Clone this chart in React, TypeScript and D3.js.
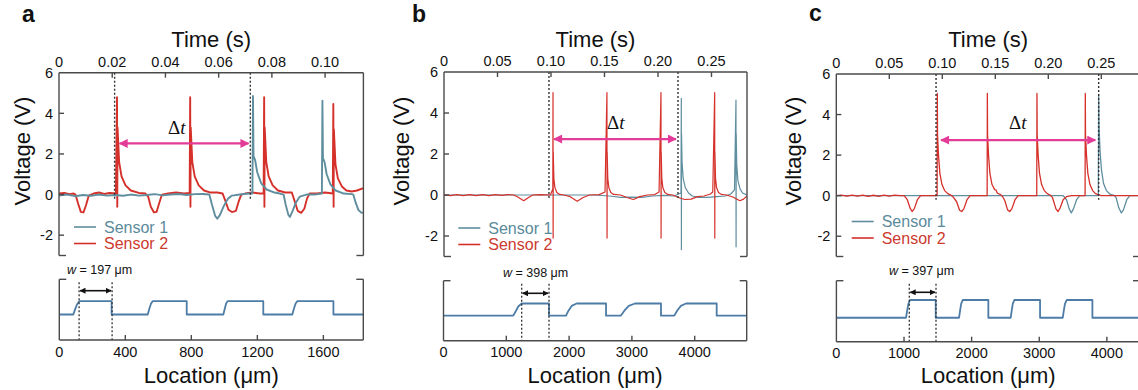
import React from 'react';
import * as d3 from 'd3';

// ---------- tick values / labels ----------
const TIME_TICKS_A = [0, 0.02, 0.04, 0.06, 0.08, 0.1];
const TIME_LABELS_A = ['0', '0.02', '0.04', '0.06', '0.08', '0.10'];
const TIME_TICKS_BC = [0, 0.05, 0.1, 0.15, 0.2, 0.25];
const TIME_LABELS_BC = ['0', '0.05', '0.10', '0.15', '0.20', '0.25'];
const VOLT_TICKS = [-2, 0, 2, 4, 6];
const LOC_TICKS_A = [0, 400, 800, 1200, 1600];
const LOC_TICKS_BC = [0, 1000, 2000, 3000, 4000];
const SERIES_NAMES = ['Sensor 1', 'Sensor 2'];
const WIDTH_VALUES = ['197', '398', '397'];
const PANEL_LETTERS = ['a', 'b', 'c'];

// ---------- panel a : [time (s), voltage (V)] ----------
const A_SENSOR2 = [
  [0, 0.05], [0.002, 0.08], [0.004, 0.02], [0.0055, 0.05], [0.0062, 0], [0.0072, -0.45], [0.0082, -0.85], [0.0092, -0.88],
  [0.0102, -0.5], [0.0112, -0.05], [0.013, 0.05], [0.015, 0.1], [0.017, 0.03], [0.019, 0.08], [0.0214, 0.05],
  [0.0218, 4.79], [0.0219, -0.6], [0.022, 3.3], [0.0226, 1.6], [0.0235, 0.9], [0.025, 0.45], [0.027, 0.2], [0.03, 0.08],
  [0.0325, 0.05], [0.0335, -0.1], [0.0345, -0.6], [0.0357, -0.88], [0.0367, -0.85], [0.0377, -0.4], [0.0387, 0],
  [0.041, 0.05], [0.044, 0.1], [0.047, 0.05], [0.0491, 0.08],
  [0.0493, 4.79], [0.0494, -0.6], [0.0495, 3.3], [0.0501, 1.6], [0.051, 0.9], [0.0525, 0.45], [0.0545, 0.2], [0.057, 0.1],
  [0.0595, 0.1], [0.0615, 0.05], [0.0625, -0.3], [0.0637, -0.75], [0.065, -0.86], [0.0665, -0.8], [0.0675, -0.35], [0.0685, 0],
  [0.07, 0.05], [0.0725, 0.1], [0.0755, 0.05], [0.0769, 0.05],
  [0.0771, 4.79], [0.0772, -0.6], [0.0773, 3.3], [0.0779, 1.6], [0.0788, 0.9], [0.0803, 0.45], [0.0823, 0.2], [0.085, 0.1],
  [0.0875, 0.1], [0.0885, -0.3], [0.0897, -0.8], [0.091, -0.9], [0.0922, -0.7], [0.0932, -0.2], [0.0942, 0.05],
  [0.097, 0.05], [0.1, 0.1], [0.1029, 0.05],
  [0.1031, 4.46], [0.1032, -0.6], [0.1033, 3.2], [0.1039, 1.5], [0.1048, 0.8], [0.1063, 0.4], [0.108, 0.2], [0.11, 0.15],
  [0.112, 0.2], [0.1144, 0.32],
];
const A_SENSOR1 = [
  [0, -0.05], [0.003, 0], [0.006, -0.08], [0.009, -0.02], [0.012, -0.06], [0.015, 0], [0.018, -0.05], [0.021, -0.02],
  [0.024, -0.06], [0.027, 0], [0.03, -0.05], [0.033, -0.02], [0.036, 0.02], [0.039, -0.04], [0.042, 0], [0.045, 0.03],
  [0.048, -0.02], [0.051, 0.02], [0.054, 0.03], [0.0565, 0], [0.0575, -0.5], [0.0587, -1.05], [0.0595, -1.19],
  [0.0605, -1.0], [0.062, -0.55], [0.0635, -0.2], [0.065, -0.05], [0.068, 0], [0.071, 0.05], [0.0727, 0.05],
  [0.0729, 4.85], [0.0731, 1.9], [0.0737, 1.7], [0.0745, 1.1], [0.076, 0.55], [0.078, 0.25], [0.081, 0.1], [0.083, 0.05],
  [0.0844, 0], [0.0852, -0.5], [0.0862, -1.0], [0.0868, -1.1], [0.0878, -0.8], [0.089, -0.4], [0.0905, -0.1],
  [0.093, 0], [0.096, 0], [0.0988, 0.05],
  [0.099, 4.62], [0.0992, 1.8], [0.0998, 1.6], [0.1006, 1.0], [0.102, 0.5], [0.104, 0.2], [0.107, 0.05], [0.11, 0.02],
  [0.1106, 0], [0.1115, -0.4], [0.1125, -0.75], [0.1135, -0.88], [0.1144, -0.9],
];
// [location (µm), relative height]
const A_PROFILE = [
  [0, 0.42], [85, 0.42], [95, 0.5], [108, 0.59], [121, 0.64], [317, 0.64], [317, 0.42], [536, 0.42], [546, 0.52],
  [556, 0.6], [566, 0.64], [772, 0.64], [772, 0.42], [994, 0.42], [1003, 0.52], [1011, 0.6], [1020, 0.64], [1236, 0.64],
  [1236, 0.42], [1412, 0.42], [1422, 0.52], [1432, 0.6], [1443, 0.64], [1661, 0.64], [1661, 0.42], [1842, 0.42],
];
const A_TIME_MARKS = [0.0209, 0.0719];
const A_DT_ARROW = [0.0224, 0.0716, 2.52];
const A_LOC_MARKS = [120, 320];

// ---------- panel b ----------
const B_SENSOR2 = [
  [0, 0], [0.006, -0.03], [0.012, 0.02], [0.018, -0.03], [0.024, 0.02], [0.03, -0.03], [0.036, 0.02], [0.042, -0.03],
  [0.048, 0.02], [0.054, -0.02], [0.06, 0.02], [0.065, 0], [0.069, -0.1], [0.0745, -0.28], [0.079, -0.12], [0.083, 0],
  [0.09, 0.02], [0.0995, 0], [0.1017, 0.3],
  [0.1019, 5.0], [0.102, -2.1], [0.1021, 2.1], [0.1027, 0.8], [0.1037, 0.35], [0.1055, 0.12], [0.108, 0.03],
  [0.112, 0], [0.118, -0.08], [0.1245, -0.3], [0.13, -0.12], [0.136, 0], [0.145, 0.02], [0.1505, 0.15],
  [0.1523, 5.0], [0.1524, -2.1], [0.1525, 2.1], [0.1531, 0.8], [0.1541, 0.35], [0.1559, 0.12], [0.1585, 0.03],
  [0.165, 0], [0.171, -0.12], [0.177, -0.22], [0.183, -0.08], [0.19, 0], [0.197, 0.02], [0.201, 0.15],
  [0.2028, 5.0], [0.2029, -2.1], [0.203, 2.1], [0.2036, 0.8], [0.2046, 0.35], [0.2064, 0.12], [0.209, 0.03],
  [0.214, 0], [0.219, -0.12], [0.225, -0.22], [0.231, -0.2], [0.237, -0.08], [0.243, -0.05], [0.249, 0.05], [0.2512, 0.15],
  [0.253, 5.0], [0.2531, -2.1], [0.2532, 2.1], [0.2538, 0.8], [0.2548, 0.35], [0.2566, 0.12], [0.259, 0.03],
  [0.264, 0], [0.27, -0.1], [0.2765, -0.28], [0.28, -0.2], [0.2832, -0.05],
];
const B_SENSOR1 = [
  [0, 0], [0.06, 0], [0.1, 0], [0.14, 0], [0.155, -0.05], [0.165, -0.12], [0.175, -0.1], [0.185, -0.12], [0.195, -0.05],
  [0.205, -0.02], [0.215, -0.05], [0.2215, 0.1],
  [0.2218, 4.72], [0.2219, -2.66], [0.222, 3.0], [0.2225, 1.6], [0.2236, 0.8], [0.2256, 0.35], [0.2286, 0.1],
  [0.232, -0.05], [0.238, -0.12], [0.246, -0.12], [0.255, -0.08], [0.263, -0.05], [0.268, 0.05], [0.2715, 0.25],
  [0.2729, 4.63], [0.273, -2.53], [0.2731, 3.0], [0.2736, 1.5], [0.2747, 0.7], [0.2767, 0.3], [0.279, 0.1], [0.2832, 0],
];
const B_PROFILE = [
  [0, 0.417], [1111, 0.417], [1150, 0.49], [1190, 0.57], [1245, 0.62], [1680, 0.62], [1680, 0.417], [1951, 0.417],
  [1990, 0.5], [2040, 0.58], [2121, 0.62], [2588, 0.62], [2588, 0.417], [2822, 0.417], [2880, 0.5], [2950, 0.58],
  [3049, 0.62], [3463, 0.62], [3463, 0.417], [3675, 0.417], [3720, 0.5], [3780, 0.58], [3862, 0.62], [4350, 0.62],
  [4350, 0.417], [4828, 0.417],
];
const B_TIME_MARKS = [0.0981, 0.2187];
const B_DT_ARROW = [0.1019, 0.2178, 2.73];
const B_LOC_MARKS = [1245, 1680];

// ---------- panel c ----------
const C_SENSOR2 = [
  [0, 0], [0.005, 0.03], [0.01, -0.02], [0.015, 0.03], [0.02, -0.02], [0.025, 0.03], [0.03, -0.03], [0.035, 0.02],
  [0.04, -0.03], [0.045, 0.03], [0.05, -0.02], [0.055, 0.03], [0.06, 0], [0.064, 0], [0.067, -0.2], [0.0695, -0.6],
  [0.0715, -0.78], [0.0735, -0.65], [0.0765, -0.2], [0.0795, 0], [0.085, 0], [0.0951, 0],
  [0.0953, 5.04], [0.0955, 3.0], [0.0964, 2.0], [0.0977, 1.1], [0.0997, 0.55], [0.1022, 0.25], [0.1052, 0.1],
  [0.108, 0.03], [0.11, -0.05], [0.1135, -0.3], [0.1163, -0.72], [0.1183, -0.78], [0.1203, -0.65], [0.1233, -0.2],
  [0.1263, 0], [0.135, 0], [0.1423, 0],
  [0.1425, 5.04], [0.1427, 3.0], [0.1436, 2.0], [0.1449, 1.1], [0.1469, 0.55], [0.1494, 0.3], [0.1506, 0.28],
  [0.152, 0.12], [0.155, 0.05], [0.157, -0.05], [0.159, -0.25], [0.1616, -0.7], [0.1636, -0.78], [0.1656, -0.65],
  [0.1686, -0.2], [0.1716, 0], [0.18, 0], [0.1891, 0],
  [0.1893, 5.04], [0.1895, 3.0], [0.1904, 2.0], [0.1917, 1.1], [0.1937, 0.55], [0.1962, 0.25], [0.199, 0.1],
  [0.202, 0.02], [0.204, -0.1], [0.2072, -0.65], [0.2092, -0.78], [0.2112, -0.6], [0.214, -0.2], [0.217, -0.05],
  [0.222, 0], [0.2347, 0],
  [0.2349, 5.04], [0.2351, 3.0], [0.236, 2.0], [0.2373, 1.1], [0.2393, 0.55], [0.2418, 0.25], [0.2445, 0.1],
  [0.247, 0.05], [0.25, 0], [0.265, 0], [0.2865, 0],
];
const C_SENSOR1 = [
  [0, 0], [0.214, 0], [0.2172, -0.2], [0.2197, -0.65], [0.2217, -0.85], [0.2237, -0.65], [0.2267, -0.2], [0.2297, 0],
  [0.2472, 0], [0.2475, 5.0], [0.2479, 3.4], [0.2488, 2.2], [0.2501, 1.3], [0.2521, 0.6], [0.2548, 0.25], [0.258, 0.08],
  [0.262, 0.02], [0.264, -0.1], [0.2665, -0.6], [0.2689, -0.85], [0.2709, -0.7], [0.274, -0.2], [0.277, 0], [0.2865, 0],
];
const C_PROFILE = [
  [0, 0.393], [1030, 0.393], [1045, 0.5], [1065, 0.62], [1089, 0.684], [1469, 0.684], [1469, 0.393], [1814, 0.393],
  [1828, 0.5], [1845, 0.62], [1868, 0.684], [2247, 0.684], [2247, 0.393], [2578, 0.393], [2592, 0.5], [2608, 0.62],
  [2632, 0.684], [3012, 0.684], [3012, 0.393], [3348, 0.393], [3362, 0.5], [3380, 0.62], [3407, 0.684], [3786, 0.684],
  [3786, 0.393], [4490, 0.393],
];
const C_TIME_MARKS = [0.0941, 0.2475];
const C_DT_ARROW = [0.0978, 0.2453, 2.74];
const C_LOC_MARKS = [1078, 1473];

// ---------- styling ----------
const SANS = "'Liberation Sans', Arial, Helvetica, sans-serif";
const SERIF = "'Liberation Serif', 'Times New Roman', serif";
const RED = '#d5302a';
const TEAL = '#5f8e9f';
const PINK = '#e33c98';
const PROFILE_BLUE = '#4d7ca6';
const AXIS = '#4a4a4a';

const LAYOUTS = [
  { letterX: 22, letterY: 22, x0: 59, x1: 363.4, tMax: 0.1144, yTop: 72.7, yBot: 255.5, voltX: 30,
    bx0: 59.3, bx1: 363.3, locMax: 1842, bTop: 279.3, bBot: 340, legX: 74, legY: 227,
    dtX: 168, dtY: 134, wX: 67, wY: 274, wArrowY: 290.7, sw: 1.9, sensor1OnTop: true },
  { letterX: 412, letterY: 22, x0: 444, x1: 747, tMax: 0.2832, yTop: 72, yBot: 256.5, voltX: 409,
    bx0: 443.5, bx1: 746.7, locMax: 4828, bTop: 280.7, bBot: 340.7, legX: 458.3, legY: 228,
    dtX: 607, dtY: 129, wX: 503, wY: 276.5, wArrowY: 293.3, sw: 1.2, sensor1OnTop: false },
  { letterX: 809, letterY: 21, x0: 836.3, x1: 1140, tMax: 0.2865, yTop: 74, yBot: 256.5, voltX: 801,
    bx0: 836.4, bx1: 1140, locMax: 4490, bTop: 280.7, bBot: 341.7, legX: 851.7, legY: 221.5,
    dtX: 1009, dtY: 128.5, wX: 889, wY: 275, wArrowY: 292.3, sw: 1.3, sensor1OnTop: false },
];

const PANELS = [
  { s1: A_SENSOR1, s2: A_SENSOR2, profile: A_PROFILE, tTicks: TIME_TICKS_A, tLabels: TIME_LABELS_A, locTicks: LOC_TICKS_A,
    marks: A_TIME_MARKS, arrow: A_DT_ARROW, locMarks: A_LOC_MARKS },
  { s1: B_SENSOR1, s2: B_SENSOR2, profile: B_PROFILE, tTicks: TIME_TICKS_BC, tLabels: TIME_LABELS_BC, locTicks: LOC_TICKS_BC,
    marks: B_TIME_MARKS, arrow: B_DT_ARROW, locMarks: B_LOC_MARKS },
  { s1: C_SENSOR1, s2: C_SENSOR2, profile: C_PROFILE, tTicks: TIME_TICKS_BC, tLabels: TIME_LABELS_BC, locTicks: LOC_TICKS_BC,
    marks: C_TIME_MARKS, arrow: C_DT_ARROW, locMarks: C_LOC_MARKS },
];

const LEG_STEP = 16.5;

function Panel({ idx }: { idx: number }) {
  const L = LAYOUTS[idx];
  const P = PANELS[idx];
  const x = d3.scaleLinear().domain([0, L.tMax]).range([L.x0, L.x1]);
  const y = d3.scaleLinear().domain([-3, 6]).range([L.yBot, L.yTop]);
  const bx = d3.scaleLinear().domain([0, L.locMax]).range([L.bx0, L.bx1]);
  const by = d3.scaleLinear().domain([0, 1]).range([L.bBot, L.bTop]);
  const line = d3.line<number[]>().x((d) => x(d[0])).y((d) => y(d[1]));
  const pline = d3.line<number[]>().x((d) => bx(d[0])).y((d) => by(d[1]));
  const clipId = `clip-${idx}`;
  const stub = 7;
  const cx = (L.x0 + L.x1) / 2;
  const bcx = (L.bx0 + L.bx1) / 2;

  const s1Path = <path d={line(P.s1) || ''} fill="none" stroke={TEAL} strokeWidth={L.sw} strokeLinejoin="round" />;
  const s2Path = <path d={line(P.s2) || ''} fill="none" stroke={RED} strokeWidth={L.sw} strokeLinejoin="round" />;

  return (
    <g>
      <defs>
        <clipPath id={clipId}>
          <rect x={L.x0} y={L.yTop} width={L.x1 - L.x0} height={L.yBot - L.yTop} />
        </clipPath>
      </defs>
      <text x={L.letterX} y={L.letterY} fontSize={23} fontWeight="bold" fill="#111">{PANEL_LETTERS[idx]}</text>
      <text x={cx} y={47} fontSize={22} textAnchor="middle" fill="#111">Time (s)</text>
      <text transform={`translate(${L.voltX},151) rotate(-90)`} fontSize={22} textAnchor="middle" fill="#111">Voltage (V)</text>

      <g clipPath={`url(#${clipId})`}>
        {L.sensor1OnTop ? <>{s2Path}{s1Path}</> : <>{s1Path}{s2Path}</>}
      </g>

      {P.marks.map((t, i) => (
        <line key={i} x1={x(t)} x2={x(t)} y1={L.yTop} y2={y(-0.2)} stroke="#333" strokeWidth={1.4} strokeDasharray="2 2" />
      ))}

      <line x1={x(P.arrow[0]) + 1} x2={x(P.arrow[1]) - 1} y1={y(P.arrow[2])} y2={y(P.arrow[2])} stroke={PINK} strokeWidth={2.2}
        markerStart="url(#pinkHead)" markerEnd="url(#pinkHead)" />
      <text x={L.dtX} y={L.dtY} fontSize={19} fontFamily={SERIF} fill="#111">Δ<tspan fontStyle="italic">t</tspan></text>

      {SERIES_NAMES.map((name, i) => (
        <g key={name}>
          <line x1={L.legX} x2={L.legX + 22} y1={L.legY + i * LEG_STEP} y2={L.legY + i * LEG_STEP} stroke={i === 0 ? TEAL : RED} strokeWidth={1.6} />
          <text x={L.legX + 30} y={L.legY + i * LEG_STEP + 5.5} fontSize={16} fill={i === 0 ? '#5b8a9b' : '#cc3a30'}>{name}</text>
        </g>
      ))}

      <g stroke={AXIS} strokeWidth={1.4} fill="none">
        <line x1={L.x0} x2={L.x1} y1={L.yTop} y2={L.yTop} />
        <line x1={L.x0} x2={L.x0} y1={L.yTop} y2={L.yBot} />
        <line x1={L.x1} x2={L.x1} y1={L.yTop} y2={L.yBot} />
        <line x1={L.x0} x2={L.x0 + stub} y1={L.yBot} y2={L.yBot} />
        <line x1={L.x1 - stub} x2={L.x1} y1={L.yBot} y2={L.yBot} />
        {P.tTicks.slice(1).map((t) => (
          <line key={t} x1={x(t)} x2={x(t)} y1={L.yTop} y2={L.yTop + 5} />
        ))}
        {VOLT_TICKS.slice(0, -1).map((v) => (
          <line key={v} x1={L.x0} x2={L.x0 + 5} y1={y(v)} y2={y(v)} />
        ))}
      </g>
      {P.tTicks.map((t, i) => (
        <text key={t} x={x(t)} y={L.yTop - 6} fontSize={14.5} textAnchor="middle" fill="#111">{P.tLabels[i]}</text>
      ))}
      {VOLT_TICKS.map((v) => (
        <text key={v} x={L.x0 - 6} y={y(v)} dy="0.36em" fontSize={14.5} textAnchor="end" fill="#111">{String(v)}</text>
      ))}

      <path d={pline(P.profile) || ''} fill="none" stroke={PROFILE_BLUE} strokeWidth={1.8} strokeLinejoin="round" />
      {P.locMarks.map((m, i) => (
        <line key={i} x1={bx(m)} x2={bx(m)} y1={L.bTop + 3} y2={L.bBot} stroke="#333" strokeWidth={1.3} strokeDasharray="2 2" />
      ))}
      <line x1={bx(P.locMarks[0]) + 1} x2={bx(P.locMarks[1]) - 1} y1={L.wArrowY} y2={L.wArrowY} stroke="#111" strokeWidth={1.6}
        markerStart="url(#blackHead)" markerEnd="url(#blackHead)" />
      <text x={L.wX} y={L.wY} fontSize={12.5} fill="#111"><tspan fontStyle="italic">w</tspan> = {WIDTH_VALUES[idx]} μm</text>
      <g stroke={AXIS} strokeWidth={1.4} fill="none">
        <line x1={L.bx0} x2={L.bx1} y1={L.bBot} y2={L.bBot} />
        <line x1={L.bx0} x2={L.bx0} y1={L.bTop} y2={L.bBot} />
        <line x1={L.bx1} x2={L.bx1} y1={L.bTop} y2={L.bBot} />
        <line x1={L.bx0} x2={L.bx0 + stub} y1={L.bTop} y2={L.bTop} />
        <line x1={L.bx1 - stub} x2={L.bx1} y1={L.bTop} y2={L.bTop} />
        {P.locTicks.slice(1).map((t) => (
          <line key={t} x1={bx(t)} x2={bx(t)} y1={L.bBot} y2={L.bBot - 5} />
        ))}
      </g>
      {P.locTicks.map((t) => (
        <text key={t} x={bx(t)} y={L.bBot + 16.5} fontSize={14.5} textAnchor="middle" fill="#111">{String(t)}</text>
      ))}
      <text x={bcx} y={382.7} fontSize={22} textAnchor="middle" fill="#111">Location (μm)</text>
    </g>
  );
}

export default function App() {
  return (
    <svg width={1138} height={390} style={{ position: 'absolute', left: 0, top: 0, background: '#fff' }} fontFamily={SANS}>
      <defs>
        <marker id="pinkHead" viewBox="0 0 10 10" refX="9" refY="5" markerUnits="userSpaceOnUse" markerWidth="10" markerHeight="9" orient="auto-start-reverse">
          <path d="M0,0L10,5L0,10z" fill={PINK} />
        </marker>
        <marker id="blackHead" viewBox="0 0 10 10" refX="9" refY="5" markerUnits="userSpaceOnUse" markerWidth="6" markerHeight="6" orient="auto-start-reverse">
          <path d="M0,0L10,5L0,10z" fill="#111" />
        </marker>
      </defs>
      <rect x={0} y={0} width={1138} height={390} fill="#fff" />
      {[0, 1, 2].map((i) => <Panel key={i} idx={i} />)}
    </svg>
  );
}
